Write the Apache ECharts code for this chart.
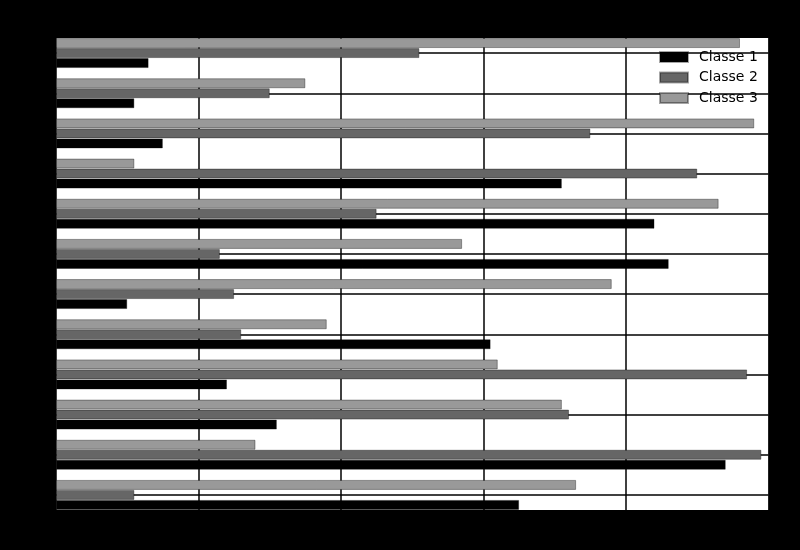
<!DOCTYPE html>
<html>
<head>
<meta charset="utf-8">
<script src="https://cdn.jsdelivr.net/npm/echarts@6/dist/echarts.min.js"></script>
<style>
  html, body { margin: 0; padding: 0; background: #000; }
  #chart { width: 800px; height: 550px; }
</style>
</head>
<body>
<div id="chart"></div>
<script>
// Categories, bottom to top
const categories = ['1', '2', '3', '4', '5', '6', '7', '8', '9', '10', '11', '12'];
const seriesNames = ['Classe 1', 'Classe 2', 'Classe 3'];
const classe1 = [65, 94, 31, 24, 61, 10, 86, 84, 71, 15, 11, 13];
const classe2 = [11, 99, 72, 97, 26, 25, 23, 45, 90, 75, 30, 51];
const classe3 = [73, 28, 71, 62, 38, 78, 57, 93, 11, 98, 35, 96];
const xTicks = [0, 20, 40, 60, 80, 100];

const colors = ['#000000', '#666666', '#999999'];
const values = [classe1, classe2, classe3];

const chart = echarts.init(document.getElementById('chart'), null, { renderer: 'canvas' });

// ECharts stacks horizontal bars top-down in series order, so add Classe 3 first
const series = [2, 1, 0].map(i => ({
  name: seriesNames[i],
  type: 'bar',
  xAxisIndex: 0,
  yAxisIndex: 0,
  data: values[i],
  barWidth: 10,
  barGap: '0%',
  itemStyle: { color: colors[i], borderColor: 'rgba(0,0,0,0.35)', borderWidth: 1 },
  emphasis: { disabled: true },
  z: 3
}));

chart.setOption({
  animation: false,
  backgroundColor: '#000000',
  grid: [
    { left: 56, right: 31.5, top: 33, bottom: 35 },
    { left: 56, right: 31.5, top: 38, bottom: 40, show: true, backgroundColor: '#ffffff', borderWidth: 0, z: 0 }
  ],
  legend: {
    orient: 'vertical',
    left: 659,
    top: 50,
    padding: 0,
    data: seriesNames,
    itemWidth: 28,
    itemHeight: 10,
    itemGap: 6.5,
    icon: 'rect',
    textStyle: { color: '#000', fontFamily: 'DejaVu Sans', fontSize: 14, lineHeight: 14, padding: [0, 0, 0, 6] }
  },
  xAxis: [
    {
      type: 'value', gridIndex: 0, min: 0, max: 100, interval: 20,
      axisLine: { show: false },
      axisTick: { show: true, lineStyle: { color: '#000' } },
      axisLabel: { color: '#000', fontFamily: 'DejaVu Sans', fontSize: 13, formatter: v => xTicks.includes(v) ? String(v) : '' },
      splitLine: { show: true, lineStyle: { color: '#000', width: 1.5 } }
    },
    { type: 'value', gridIndex: 1, show: false, min: 0, max: 1, splitLine: { show: false } }
  ],
  yAxis: [
    {
      type: 'category', gridIndex: 0, data: categories,
      axisLine: { show: false },
      axisTick: { show: false, alignWithLabel: true },
      axisLabel: { color: '#000', fontFamily: 'DejaVu Sans', fontSize: 13 },
      splitLine: { show: true, alignWithLabel: true, lineStyle: { color: '#000', width: 1.5 } }
    },
    { type: 'value', gridIndex: 1, show: false, min: 0, max: 1, splitLine: { show: false } }
  ],
  series: series
});
</script>
</body>
</html>
